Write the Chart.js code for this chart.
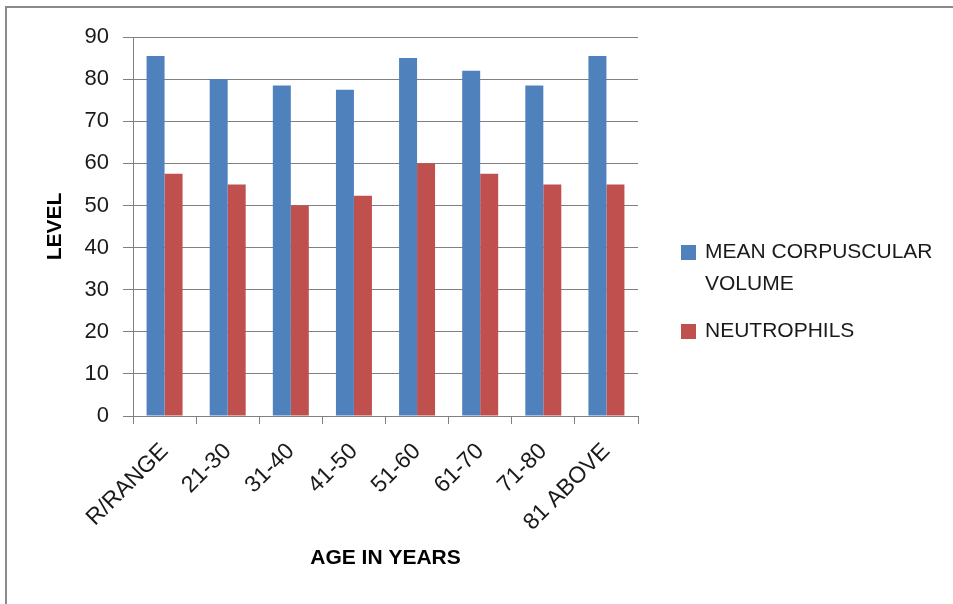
<!DOCTYPE html>
<html>
<head>
<meta charset="utf-8">
<script src="https://cdn.jsdelivr.net/npm/chart.js@4.4.0/dist/chart.umd.min.js"></script>
<style>
  body { margin: 0; background: #fff; overflow: hidden; }
  #wrap { position: relative; width: 953px; height: 604px; }
  #frame { position: absolute; left: 5px; top: 6px; width: 1000px; height: 1000px;
           border-left: 2px solid #8a8a8a; border-top: 2px solid #8a8a8a; }
  canvas { position: absolute; left: 0; top: 0; }
</style>
</head>
<body>
<div id="wrap">
  <div id="frame"></div>
  <canvas id="chart" width="953" height="604"></canvas>
</div>
<script>
const categories = ["R/RANGE", "21-30", "31-40", "41-50", "51-60", "61-70", "71-80", "81 ABOVE"];
const seriesNames = ["MEAN CORPUSCULAR VOLUME", "NEUTROPHILS"];
const mcvValues = [85.5, 80, 78.5, 77.5, 85, 82, 78.5, 85.5];
const neutrophilValues = [57.5, 55, 50, 52.3, 60, 57.5, 55, 55];
const seriesColors = ["#4F81BD", "#C0504D"];
const yTicks = [0, 10, 20, 30, 40, 50, 60, 70, 80, 90];

const FONT = "'Liberation Sans', Arial, sans-serif";

// legend on the right, names wrapped like the original
const sideLegend = {
  id: "sideLegend",
  afterDraw(chart) {
    const ctx = chart.ctx;
    ctx.save();
    ctx.font = "21px " + FONT;
    ctx.fillStyle = "#1a1a1a";
    ctx.textBaseline = "middle";
    let y = 252;
    chart.data.datasets.forEach((ds) => {
      const words = ds.label.split(" ");
      const lines = [];
      let line = "";
      words.forEach((w) => {
        const test = line ? line + " " + w : w;
        if (ctx.measureText(test).width > 240 && line) {
          lines.push(line);
          line = w;
        } else {
          line = test;
        }
      });
      lines.push(line);
      ctx.fillStyle = ds.backgroundColor;
      ctx.fillRect(681, y - 7, 15, 15);
      ctx.fillStyle = "#1a1a1a";
      lines.forEach((l, i) => ctx.fillText(l, 705, y + i * 32));
      y += lines.length * 32 + 15;
    });
    ctx.restore();
  }
};

new Chart(document.getElementById("chart"), {
  type: "bar",
  data: {
    labels: categories,
    datasets: [
      { label: seriesNames[0], data: mcvValues, backgroundColor: seriesColors[0] },
      { label: seriesNames[1], data: neutrophilValues, backgroundColor: seriesColors[1] }
    ]
  },
  options: {
    responsive: false,
    animation: false,
    layout: { padding: { left: 0, top: 37, right: 315, bottom: 0 } },
    datasets: { bar: { categoryPercentage: 0.57, barPercentage: 1.0 } },
    plugins: { legend: { display: false }, tooltip: { enabled: false } },
    scales: {
      x: {
        grid: { color: "#808080", drawOnChartArea: false, tickLength: 8, offset: true },
        border: { color: "#808080" },
        ticks: { color: "#1a1a1a", font: { family: FONT, size: 23 }, maxRotation: 45, minRotation: 45, padding: 14 },
        title: { display: true, text: "AGE IN YEARS", color: "#000", font: { family: FONT, size: 21, weight: "bold" }, padding: { bottom: 33 } },
        afterFit(scale) { scale.height = 188; }
      },
      y: {
        min: 0,
        max: 90,
        afterBuildTicks(scale) { scale.ticks = yTicks.map(v => ({ value: v })); },
        grid: { color: "#808080", tickLength: 10 },
        border: { color: "#808080" },
        ticks: { color: "#1a1a1a", font: { family: FONT, size: 22 }, padding: 14 },
        title: { display: true, text: "LEVEL", color: "#000", font: { family: FONT, size: 21, weight: "bold" }, padding: { top: 43 } },
        afterFit(scale) { scale.width = 133; }
      }
    }
  },
  plugins: [sideLegend]
});
</script>
</body>
</html>
